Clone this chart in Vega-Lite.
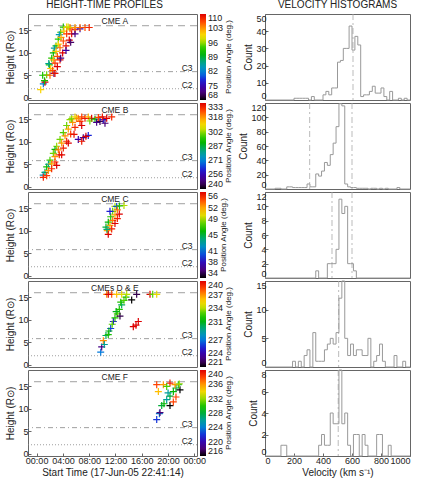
{
"$schema":"https://vega.github.io/schema/vega-lite/v6.json",
"padding":{"left":5,"top":-1,"right":0,"bottom":0},
"spacing":3,
"resolve":{"scale":{"color":"independent"},"legend":{"color":"independent"}},
"datasets":{
"cmeA":[{"t":0.62,"h":1.8,"pa":100},{"t":1.02,"h":3.1,"pa":82},{"t":1.27,"h":3.45,"pa":110},{"t":1.2,"h":3.8,"pa":92},{"t":0.92,"h":5.0,"pa":92},{"t":1.53,"h":5.1,"pa":95},{"t":2.03,"h":5.0,"pa":105},{"t":2.64,"h":5.4,"pa":72},
{"t":1.93,"h":7.3,"pa":92},{"t":2.29,"h":8.8,"pa":93},{"t":2.54,"h":9.95,"pa":91},{"t":2.95,"h":11.5,"pa":92},{"t":3.3,"h":13.0,"pa":93},{"t":3.66,"h":14.55,"pa":94},{"t":4.06,"h":15.7,"pa":92},
{"t":1.85,"h":7.6,"pa":86},{"t":2.7,"h":11.0,"pa":85},{"t":3.45,"h":14.0,"pa":84},
{"t":2.14,"h":6.5,"pa":101},{"t":2.54,"h":8.4,"pa":102},{"t":2.95,"h":10.3,"pa":101},{"t":3.3,"h":11.9,"pa":100},{"t":3.71,"h":13.4,"pa":102},{"t":4.16,"h":14.8,"pa":101},{"t":4.57,"h":15.7,"pa":100},
{"t":2.44,"h":6.1,"pa":106},{"t":2.79,"h":7.7,"pa":107},{"t":3.15,"h":9.2,"pa":106},{"t":3.56,"h":11.1,"pa":105},{"t":4.06,"h":12.6,"pa":106},{"t":4.57,"h":14.2,"pa":107},{"t":5.08,"h":15.3,"pa":106},
{"t":2.79,"h":5.4,"pa":109},{"t":3.15,"h":6.9,"pa":110},{"t":3.56,"h":8.4,"pa":109},{"t":3.96,"h":9.95,"pa":110},{"t":4.47,"h":11.5,"pa":109},{"t":4.97,"h":12.8,"pa":110},{"t":5.33,"h":14.2,"pa":109},{"t":5.84,"h":15.1,"pa":110},
{"t":3.66,"h":8.8,"pa":72},{"t":4.47,"h":10.5,"pa":74},{"t":5.18,"h":12.3,"pa":71},{"t":5.84,"h":14.2,"pa":73},{"t":6.6,"h":15.3,"pa":75},
{"t":5.08,"h":15.6,"pa":104},{"t":5.84,"h":15.6,"pa":103},{"t":6.6,"h":15.6,"pa":105},{"t":7.36,"h":15.6,"pa":106},{"t":8.0,"h":15.6,"pa":108},{"t":4.8,"h":15.7,"pa":97}],
"cmeB":[{"t":1.27,"h":3.2,"pa":285},{"t":1.53,"h":4.4,"pa":292},{"t":2.03,"h":5.9,"pa":298},{"t":2.54,"h":7.4,"pa":300},{"t":3.05,"h":9.0,"pa":302},{"t":3.56,"h":10.5,"pa":300},{"t":4.06,"h":12.0,"pa":298},{"t":4.57,"h":13.6,"pa":300},{"t":5.08,"h":14.9,"pa":302},
{"t":1.0,"h":2.6,"pa":275},{"t":1.8,"h":5.0,"pa":280},{"t":2.8,"h":8.3,"pa":290},
{"t":1.78,"h":3.6,"pa":318},{"t":2.29,"h":5.1,"pa":316},{"t":2.79,"h":6.7,"pa":318},{"t":3.3,"h":8.2,"pa":320},{"t":3.81,"h":9.7,"pa":317},{"t":4.32,"h":11.3,"pa":318},{"t":4.82,"h":12.8,"pa":316},{"t":5.48,"h":14.3,"pa":318},{"t":6.1,"h":15.2,"pa":320},
{"t":1.02,"h":2.1,"pa":328},{"t":1.53,"h":2.45,"pa":326},{"t":2.29,"h":4.0,"pa":328},{"t":2.79,"h":5.5,"pa":327},{"t":3.45,"h":7.1,"pa":328},{"t":4.06,"h":8.6,"pa":329},{"t":4.57,"h":10.1,"pa":328},{"t":5.18,"h":11.7,"pa":326},{"t":5.84,"h":13.2,"pa":328},{"t":6.6,"h":14.5,"pa":327},
{"t":3.05,"h":4.75,"pa":333},{"t":3.81,"h":7.1,"pa":332},{"t":4.82,"h":9.7,"pa":333},{"t":5.69,"h":11.65,"pa":331},{"t":6.86,"h":13.6,"pa":333},
{"t":6.34,"h":10.5,"pa":255},{"t":7.1,"h":10.9,"pa":250},{"t":7.86,"h":11.4,"pa":262},{"t":6.86,"h":10.1,"pa":330},{"t":7.5,"h":11.2,"pa":333},
{"t":5.33,"h":15.1,"pa":300},{"t":5.84,"h":15.5,"pa":310},{"t":6.34,"h":15.2,"pa":318},{"t":6.86,"h":15.5,"pa":325},{"t":7.36,"h":15.2,"pa":330},{"t":7.86,"h":15.5,"pa":315},{"t":8.37,"h":15.2,"pa":333},{"t":8.88,"h":15.0,"pa":290},{"t":9.13,"h":14.3,"pa":250},{"t":9.64,"h":14.5,"pa":245},{"t":10.14,"h":14.9,"pa":260},{"t":10.66,"h":15.2,"pa":333},{"t":11.42,"h":15.5,"pa":328},{"t":10.4,"h":14.1,"pa":248},{"t":9.4,"h":15.4,"pa":325},{"t":8.1,"h":14.6,"pa":300},{"t":10.0,"h":15.5,"pa":330}],
"cmeC":[{"t":10.55,"h":10.8,"pa":45},{"t":10.9,"h":11.9,"pa":46},{"t":11.27,"h":13.1,"pa":47},{"t":11.57,"h":14.3,"pa":48},{"t":11.92,"h":15.4,"pa":49},{"t":11.16,"h":14.3,"pa":39},{"t":12.18,"h":15.4,"pa":40},
{"t":10.75,"h":10.0,"pa":52},{"t":11.16,"h":11.2,"pa":52},{"t":11.57,"h":12.3,"pa":53},{"t":11.92,"h":13.5,"pa":52},{"t":12.28,"h":14.65,"pa":53},
{"t":10.9,"h":9.2,"pa":56},{"t":11.42,"h":10.4,"pa":55},{"t":11.92,"h":11.6,"pa":56},{"t":12.28,"h":12.7,"pa":55},{"t":12.58,"h":13.7,"pa":56},
{"t":13.29,"h":15.6,"pa":49},{"t":12.6,"h":15.5,"pa":47},{"t":10.7,"h":10.3,"pa":44}],
"cmeDE":[{"t":9.75,"h":2.8,"pa":227},{"t":9.9,"h":3.95,"pa":223},{"t":10.15,"h":5.35,"pa":237},{"t":10.55,"h":6.5,"pa":230},{"t":10.9,"h":6.7,"pa":232},{"t":11.27,"h":8.05,"pa":226},{"t":11.67,"h":9.6,"pa":225},{"t":11.92,"h":10.4,"pa":232},{"t":12.28,"h":11.3,"pa":233},{"t":12.68,"h":10.8,"pa":222},{"t":12.58,"h":12.3,"pa":232},{"t":12.94,"h":13.3,"pa":230},{"t":13.29,"h":14.3,"pa":233},{"t":13.6,"h":15.0,"pa":232},{"t":14.46,"h":14.4,"pa":221},{"t":15.22,"h":15.65,"pa":222},
{"t":10.66,"h":15.65,"pa":237},{"t":11.42,"h":15.65,"pa":238},{"t":12.18,"h":15.65,"pa":236},{"t":12.94,"h":15.65,"pa":235},{"t":13.7,"h":15.65,"pa":234},{"t":10.9,"h":15.65,"pa":240},
{"t":17.25,"h":15.65,"pa":240},{"t":17.66,"h":15.65,"pa":233},{"t":18.27,"h":15.65,"pa":235},
{"t":14.71,"h":8.45,"pa":240},{"t":15.12,"h":8.8,"pa":240},{"t":15.47,"h":9.6,"pa":240},
{"t":11.0,"h":7.5,"pa":231},{"t":11.5,"h":9.0,"pa":233},{"t":12.1,"h":11.8,"pa":231},{"t":12.8,"h":13.9,"pa":232},{"t":10.3,"h":4.5,"pa":229}],
"cmeF":[{"t":18.27,"h":7.6,"pa":222},{"t":18.68,"h":8.9,"pa":224},{"t":19.03,"h":10.7,"pa":228},{"t":19.38,"h":11.1,"pa":229},{"t":19.79,"h":12.0,"pa":226},{"t":20.29,"h":12.8,"pa":228},{"t":20.8,"h":13.8,"pa":229},{"t":21.2,"h":14.6,"pa":228},{"t":21.56,"h":15.35,"pa":228},
{"t":18.77,"h":9.15,"pa":218},{"t":20.29,"h":10.7,"pa":216},{"t":21.81,"h":14.2,"pa":216},
{"t":20.8,"h":11.5,"pa":238},{"t":21.2,"h":12.6,"pa":238},
{"t":18.27,"h":15.35,"pa":238},{"t":18.52,"h":13.8,"pa":235},{"t":19.28,"h":15.35,"pa":236},{"t":20.29,"h":15.7,"pa":239},{"t":21.05,"h":15.35,"pa":236},{"t":19.79,"h":14.95,"pa":231},{"t":21.7,"h":15.5,"pa":232},{"t":20.0,"h":13.5,"pa":226}],
"h1":[{"v":0,"n":0},{"v":200,"n":1},{"v":220,"n":1},{"v":240,"n":1},{"v":260,"n":1},{"v":280,"n":1},{"v":300,"n":0},{"v":320,"n":2},{"v":340,"n":0},{"v":400,"n":3},{"v":420,"n":5},{"v":440,"n":3},{"v":460,"n":7},{"v":480,"n":7},{"v":500,"n":22},{"v":520,"n":23},{"v":540,"n":30},{"v":560,"n":30},{"v":580,"n":43},{"v":600,"n":29},{"v":620,"n":37},{"v":640,"n":32},{"v":660,"n":2},{"v":680,"n":3},{"v":700,"n":3},{"v":720,"n":5},{"v":740,"n":8},{"v":760,"n":4},{"v":780,"n":4},{"v":800,"n":7},{"v":820,"n":2},{"v":840,"n":0},{"v":860,"n":5},{"v":880,"n":0},{"v":920,"n":1},{"v":940,"n":0},{"v":960,"n":1},{"v":980,"n":0},{"v":1000,"n":0}],
"h2":[{"v":0,"n":0},{"v":70,"n":1},{"v":90,"n":1},{"v":110,"n":0},{"v":150,"n":3},{"v":170,"n":3},{"v":190,"n":2},{"v":210,"n":2},{"v":230,"n":2},{"v":250,"n":2},{"v":270,"n":2},{"v":290,"n":7},{"v":310,"n":3},{"v":330,"n":3},{"v":350,"n":21},{"v":370,"n":18},{"v":390,"n":25},{"v":410,"n":37},{"v":430,"n":33},{"v":450,"n":48},{"v":470,"n":64},{"v":490,"n":87},{"v":510,"n":119},{"v":530,"n":116},{"v":550,"n":7},{"v":570,"n":3},{"v":590,"n":2},{"v":610,"n":2},{"v":630,"n":1},{"v":650,"n":1},{"v":670,"n":1},{"v":690,"n":1},{"v":710,"n":0},{"v":730,"n":1},{"v":750,"n":1},{"v":770,"n":0},{"v":790,"n":1},{"v":810,"n":0},{"v":830,"n":1},{"v":850,"n":0},{"v":910,"n":2},{"v":930,"n":0},{"v":1000,"n":0}],
"h3":[{"v":0,"n":0},{"v":350,"n":1},{"v":370,"n":0},{"v":430,"n":2},{"v":450,"n":2},{"v":470,"n":2},{"v":490,"n":4},{"v":510,"n":11},{"v":530,"n":9},{"v":550,"n":10},{"v":570,"n":2},{"v":590,"n":2},{"v":610,"n":1},{"v":630,"n":0},{"v":1000,"n":0}],
"h4":[{"v":0,"n":0},{"v":190,"n":1},{"v":210,"n":0},{"v":230,"n":1},{"v":250,"n":0},{"v":270,"n":2},{"v":290,"n":3},{"v":310,"n":0},{"v":330,"n":6},{"v":350,"n":1},{"v":370,"n":1},{"v":390,"n":1},{"v":410,"n":3},{"v":430,"n":4},{"v":450,"n":5},{"v":470,"n":4},{"v":490,"n":6},{"v":510,"n":12},{"v":530,"n":15},{"v":550,"n":5},{"v":570,"n":2},{"v":590,"n":4},{"v":610,"n":2},{"v":630,"n":3},{"v":650,"n":3},{"v":670,"n":2},{"v":690,"n":2},{"v":710,"n":5},{"v":730,"n":0},{"v":750,"n":1},{"v":770,"n":2},{"v":790,"n":4},{"v":810,"n":1},{"v":830,"n":0},{"v":890,"n":2},{"v":910,"n":0},{"v":950,"n":1},{"v":970,"n":0},{"v":1000,"n":0}],
"h5":[{"v":0,"n":0},{"v":110,"n":1},{"v":130,"n":1},{"v":150,"n":0},{"v":370,"n":1},{"v":390,"n":2},{"v":410,"n":1},{"v":430,"n":1},{"v":450,"n":4},{"v":470,"n":3},{"v":490,"n":3},{"v":510,"n":8},{"v":530,"n":3},{"v":550,"n":4},{"v":570,"n":1},{"v":590,"n":0},{"v":610,"n":2},{"v":630,"n":2},{"v":650,"n":0},{"v":670,"n":2},{"v":690,"n":1},{"v":710,"n":0},{"v":770,"n":2},{"v":790,"n":2},{"v":810,"n":0},{"v":850,"n":1},{"v":870,"n":0},{"v":1000,"n":0}]
},
"hconcat":[
{"vconcat":[
{"width":169,"height":86,"title":{"text":"HEIGHT-TIME PROFILES","dx":-8,"frame":"group"},
"encoding":{"y":{"field":"h","type":"quantitative","scale":{"domain":[-0.5,18.6],"nice":false,"zero":false},"axis":{"values":[0,5,10,15],"labelPadding":3,"title":"Height (R⊙)"}}},
"layer":[
{"data":{"values":[{"h":16}]},"mark":{"type":"rule","color":"#888","strokeWidth":0.8,"strokeDash":[7,5]}},
{"data":{"values":[{"h":5.8}]},"mark":{"type":"rule","color":"#888","strokeWidth":0.8,"strokeDash":[5,3,1,3]}},
{"data":{"values":[{"h":2.0}]},"mark":{"type":"rule","color":"#888","strokeWidth":0.8,"strokeDash":[1,2]}},
{"data":{"values":[{"t":22.9,"h":6.7,"s":"C3"},{"t":22.9,"h":2.9,"s":"C2"},{"t":11.9,"h":17.1,"s":"CME A"}]},"mark":{"type":"text","fontSize":8.5,"color":"#222"},
 "encoding":{"x":{"field":"t","type":"quantitative","scale":{"domain":[-1.3125,24.4],"nice":false,"zero":false},"axis":null},"text":{"field":"s"}}},
{"data":{"name":"cmeA"},"mark":{"type":"point","shape":"M-1,0L1,0M0,-1L0,1","filled":false,"size":49,"strokeWidth":1.2,"opacity":1},
 "encoding":{"x":{"field":"t","type":"quantitative","scale":{"domain":[-1.3125,24.4],"nice":false,"zero":false},"axis":null},
 "color":{"field":"pa","type":"quantitative","scale":{"domain":[68,110],"interpolate":"rgb","range":["#000000","#4b0070","#3a00a8","#1b1fd6","#0074de","#0099b8","#00a870","#00b400","#36cc00","#c8e000","#ffd400","#ff8a00","#ff3a00","#dd0000"]},"legend":{"values":[68,75,82,89,96,103,110],"title":"Position Angle (deg.)","encoding":{"title":{"angle":{"value":270},"baseline":{"value":"top"}}}}}}}
]},
{"width":169,"height":86,
"encoding":{"y":{"field":"h","type":"quantitative","scale":{"domain":[-0.5,18.6],"nice":false,"zero":false},"axis":{"values":[0,5,10,15],"labelPadding":3,"title":"Height (R⊙)"}}},
"layer":[
{"data":{"values":[{"h":16}]},"mark":{"type":"rule","color":"#888","strokeWidth":0.8,"strokeDash":[7,5]}},
{"data":{"values":[{"h":5.8}]},"mark":{"type":"rule","color":"#888","strokeWidth":0.8,"strokeDash":[5,3,1,3]}},
{"data":{"values":[{"h":2.0}]},"mark":{"type":"rule","color":"#888","strokeWidth":0.8,"strokeDash":[1,2]}},
{"data":{"values":[{"t":22.9,"h":6.7,"s":"C3"},{"t":22.9,"h":2.9,"s":"C2"},{"t":11.9,"h":17.1,"s":"CME B"}]},"mark":{"type":"text","fontSize":8.5,"color":"#222"},
 "encoding":{"x":{"field":"t","type":"quantitative","scale":{"domain":[-1.3125,24.4],"nice":false,"zero":false},"axis":null},"text":{"field":"s"}}},
{"data":{"name":"cmeB"},"mark":{"type":"point","shape":"M-1,0L1,0M0,-1L0,1","filled":false,"size":49,"strokeWidth":1.2,"opacity":1},
 "encoding":{"x":{"field":"t","type":"quantitative","scale":{"domain":[-1.3125,24.4],"nice":false,"zero":false},"axis":null},
 "color":{"field":"pa","type":"quantitative","scale":{"domain":[240,333],"interpolate":"rgb","range":["#000000","#4b0070","#3a00a8","#1b1fd6","#0074de","#0099b8","#00a870","#00b400","#36cc00","#c8e000","#ffd400","#ff8a00","#ff3a00","#dd0000"]},"legend":{"values":[240,256,271,287,302,318,333],"title":"Position Angle (deg.)","encoding":{"title":{"angle":{"value":270},"baseline":{"value":"top"}}}}}}}
]},
{"width":169,"height":86,
"encoding":{"y":{"field":"h","type":"quantitative","scale":{"domain":[-0.5,18.6],"nice":false,"zero":false},"axis":{"values":[0,5,10,15],"labelPadding":3,"title":"Height (R⊙)"}}},
"layer":[
{"data":{"values":[{"h":16}]},"mark":{"type":"rule","color":"#888","strokeWidth":0.8,"strokeDash":[7,5]}},
{"data":{"values":[{"h":5.8}]},"mark":{"type":"rule","color":"#888","strokeWidth":0.8,"strokeDash":[5,3,1,3]}},
{"data":{"values":[{"h":2.0}]},"mark":{"type":"rule","color":"#888","strokeWidth":0.8,"strokeDash":[1,2]}},
{"data":{"values":[{"t":22.9,"h":6.7,"s":"C3"},{"t":22.9,"h":2.9,"s":"C2"},{"t":11.9,"h":17.1,"s":"CME C"}]},"mark":{"type":"text","fontSize":8.5,"color":"#222"},
 "encoding":{"x":{"field":"t","type":"quantitative","scale":{"domain":[-1.3125,24.4],"nice":false,"zero":false},"axis":null},"text":{"field":"s"}}},
{"data":{"name":"cmeC"},"mark":{"type":"point","shape":"M-1,0L1,0M0,-1L0,1","filled":false,"size":49,"strokeWidth":1.2,"opacity":1},
 "encoding":{"x":{"field":"t","type":"quantitative","scale":{"domain":[-1.3125,24.4],"nice":false,"zero":false},"axis":null},
 "color":{"field":"pa","type":"quantitative","scale":{"domain":[34,56],"interpolate":"rgb","range":["#000000","#4b0070","#3a00a8","#1b1fd6","#0074de","#0099b8","#00a870","#00b400","#36cc00","#c8e000","#ffd400","#ff8a00","#ff3a00","#dd0000"]},"legend":{"values":[34,38,41,45,49,52,56],"title":"Position Angle (deg.)","encoding":{"title":{"angle":{"value":270},"baseline":{"value":"top"}}}}}}}
]},
{"width":169,"height":86,
"encoding":{"y":{"field":"h","type":"quantitative","scale":{"domain":[-0.5,18.6],"nice":false,"zero":false},"axis":{"values":[0,5,10,15],"labelPadding":3,"title":"Height (R⊙)"}}},
"layer":[
{"data":{"values":[{"h":16}]},"mark":{"type":"rule","color":"#888","strokeWidth":0.8,"strokeDash":[7,5]}},
{"data":{"values":[{"h":5.8}]},"mark":{"type":"rule","color":"#888","strokeWidth":0.8,"strokeDash":[5,3,1,3]}},
{"data":{"values":[{"h":2.0}]},"mark":{"type":"rule","color":"#888","strokeWidth":0.8,"strokeDash":[1,2]}},
{"data":{"values":[{"t":22.9,"h":6.7,"s":"C3"},{"t":22.9,"h":2.9,"s":"C2"},{"t":11.9,"h":17.1,"s":"CMEs D & E"}]},"mark":{"type":"text","fontSize":8.5,"color":"#222"},
 "encoding":{"x":{"field":"t","type":"quantitative","scale":{"domain":[-1.3125,24.4],"nice":false,"zero":false},"axis":null},"text":{"field":"s"}}},
{"data":{"name":"cmeDE"},"mark":{"type":"point","shape":"M-1,0L1,0M0,-1L0,1","filled":false,"size":49,"strokeWidth":1.2,"opacity":1},
 "encoding":{"x":{"field":"t","type":"quantitative","scale":{"domain":[-1.3125,24.4],"nice":false,"zero":false},"axis":null},
 "color":{"field":"pa","type":"quantitative","scale":{"domain":[221,240],"interpolate":"rgb","range":["#000000","#4b0070","#3a00a8","#1b1fd6","#0074de","#0099b8","#00a870","#00b400","#36cc00","#c8e000","#ffd400","#ff8a00","#ff3a00","#dd0000"]},"legend":{"values":[221,224,227,231,234,237,240],"title":"Position Angle (deg.)","encoding":{"title":{"angle":{"value":270},"baseline":{"value":"top"}}}}}}}
]},
{"width":169,"height":86,
"encoding":{"y":{"field":"h","type":"quantitative","scale":{"domain":[-0.5,18.6],"nice":false,"zero":false},"axis":{"values":[0,5,10,15],"labelPadding":3,"title":"Height (R⊙)"}}},
"layer":[
{"data":{"values":[{"h":16}]},"mark":{"type":"rule","color":"#888","strokeWidth":0.8,"strokeDash":[7,5]}},
{"data":{"values":[{"h":5.8}]},"mark":{"type":"rule","color":"#888","strokeWidth":0.8,"strokeDash":[5,3,1,3]}},
{"data":{"values":[{"h":2.0}]},"mark":{"type":"rule","color":"#888","strokeWidth":0.8,"strokeDash":[1,2]}},
{"data":{"values":[{"t":22.9,"h":6.7,"s":"C3"},{"t":22.9,"h":2.9,"s":"C2"},{"t":11.9,"h":17.1,"s":"CME F"}]},"mark":{"type":"text","fontSize":8.5,"color":"#222"},
 "encoding":{"x":{"field":"t","type":"quantitative","scale":{"domain":[-1.3125,24.4],"nice":false,"zero":false},"axis":{"values":[0,4,8,12,16,20,24],"labelPadding":3,"labelExpr":"(datum.value%24<10?'0':'')+(datum.value%24)+':00'","title":"Start Time (17-Jun-05 22:41:14)"}},"text":{"field":"s"}}},
{"data":{"name":"cmeF"},"mark":{"type":"point","shape":"M-1,0L1,0M0,-1L0,1","filled":false,"size":49,"strokeWidth":1.2,"opacity":1},
 "encoding":{"x":{"field":"t","type":"quantitative","scale":{"domain":[-1.3125,24.4],"nice":false,"zero":false},"axis":{"values":[0,4,8,12,16,20,24],"labelPadding":3,"labelExpr":"(datum.value%24<10?'0':'')+(datum.value%24)+':00'","title":"Start Time (17-Jun-05 22:41:14)"}},
 "color":{"field":"pa","type":"quantitative","scale":{"domain":[216,240],"interpolate":"rgb","range":["#000000","#4b0070","#3a00a8","#1b1fd6","#0074de","#0099b8","#00a870","#00b400","#36cc00","#c8e000","#ffd400","#ff8a00","#ff3a00","#dd0000"]},"legend":{"values":[216,220,224,228,232,236,240],"title":"Position Angle (deg.)","encoding":{"title":{"angle":{"value":270},"baseline":{"value":"top"}}}}}}}
]}
],"spacing":3,"bounds":"flush","resolve":{"scale":{"color":"independent"},"legend":{"color":"independent"}}},
{"vconcat":[
{"width":145,"height":86,"title":{"text":"VELOCITY HISTOGRAMS","frame":"group"},
"encoding":{"x":{"field":"v","type":"quantitative","scale":{"domain":[0,1000],"nice":false},"axis":null}},
"layer":[
{"data":{"values":[{"v":607}]},"mark":{"type":"rule","color":"#aaa","strokeWidth":0.8,"strokeDash":[6,3,2,3]}},
{"data":{"name":"h1"},"mark":{"type":"line","interpolate":"step-after","color":"#999","strokeWidth":1},"encoding":{"y":{"field":"n","type":"quantitative","scale":{"domain":[0,50],"nice":false},"axis":{"values":[0,10,20,30,40,50],"labelFlush":true,"title":"Count"}}}}
]},
{"width":145,"height":86,
"encoding":{"x":{"field":"v","type":"quantitative","scale":{"domain":[0,1000],"nice":false},"axis":null}},
"layer":[
{"data":{"values":[{"v":308},{"v":600}]},"mark":{"type":"rule","color":"#aaa","strokeWidth":0.8,"strokeDash":[6,3,2,3]}},
{"data":{"name":"h2"},"mark":{"type":"line","interpolate":"step-after","color":"#999","strokeWidth":1},"encoding":{"y":{"field":"n","type":"quantitative","scale":{"domain":[0,120],"nice":false},"axis":{"values":[0,20,40,60,80,100,120],"labelFlush":true,"title":"Count"}}}}
]},
{"width":145,"height":86,
"encoding":{"x":{"field":"v","type":"quantitative","scale":{"domain":[0,1000],"nice":false},"axis":null}},
"layer":[
{"data":{"values":[{"v":462},{"v":600}]},"mark":{"type":"rule","color":"#aaa","strokeWidth":0.8,"strokeDash":[6,3,2,3]}},
{"data":{"name":"h3"},"mark":{"type":"line","interpolate":"step-after","color":"#999","strokeWidth":1},"encoding":{"y":{"field":"n","type":"quantitative","scale":{"domain":[0,12],"nice":false},"axis":{"values":[0,2,4,6,8,10,12],"labelFlush":true,"title":"Count"}}}}
]},
{"width":145,"height":86,
"encoding":{"x":{"field":"v","type":"quantitative","scale":{"domain":[0,1000],"nice":false},"axis":null}},
"layer":[
{"data":{"values":[{"v":508}]},"mark":{"type":"rule","color":"#aaa","strokeWidth":0.8,"strokeDash":[6,3,2,3]}},
{"data":{"name":"h4"},"mark":{"type":"line","interpolate":"step-after","color":"#999","strokeWidth":1},"encoding":{"y":{"field":"n","type":"quantitative","scale":{"domain":[0,15],"nice":false},"axis":{"values":[0,5,10,15],"labelFlush":true,"title":"Count"}}}}
]},
{"width":145,"height":86,
"encoding":{"x":{"field":"v","type":"quantitative","scale":{"domain":[0,1000],"nice":false},"axis":{"values":[0,200,400,600,800,1000],"format":"d","labelPadding":3,"title":"Velocity (km s⁻¹)"}}},
"layer":[
{"data":{"values":[{"v":505}]},"mark":{"type":"rule","color":"#aaa","strokeWidth":0.8,"strokeDash":[6,3,2,3]}},
{"data":{"name":"h5"},"mark":{"type":"line","interpolate":"step-after","color":"#999","strokeWidth":1},"encoding":{"y":{"field":"n","type":"quantitative","scale":{"domain":[0,8],"nice":false},"axis":{"values":[0,2,4,6,8],"labelFlush":true,"title":"Count"}}}}
]}
],"spacing":3,"bounds":"flush"}
],
"config":{
"font":"Liberation Sans",
"view":{"stroke":"#666","strokeWidth":1},
"axis":{"grid":false,"domain":false,"tickColor":"#666","tickSize":-3,"labelPadding":2,"labelFontSize":9,"labelOverlap":false,"titleFontSize":10,"titleFontWeight":"normal","labelColor":"#222","titleColor":"#222","titlePadding":2,"labelFont":"Liberation Sans","titleFont":"Liberation Sans"},
"legend":{"orient":"right","offset":3,"gradientThickness":6,"gradientLength":86,"gradientStrokeWidth":0,"labelFontSize":9,"labelOffset":2,"labelOverlap":false,"titleOrient":"right","titleAnchor":"middle","titleFontSize":8,"titleFontWeight":"normal","titlePadding":2,"labelColor":"#222","titleColor":"#222","padding":0,"labelFont":"Liberation Sans","titleFont":"Liberation Sans"},
"title":{"fontSize":10,"fontWeight":"normal","font":"Liberation Sans","color":"#222","offset":0}
}
}
